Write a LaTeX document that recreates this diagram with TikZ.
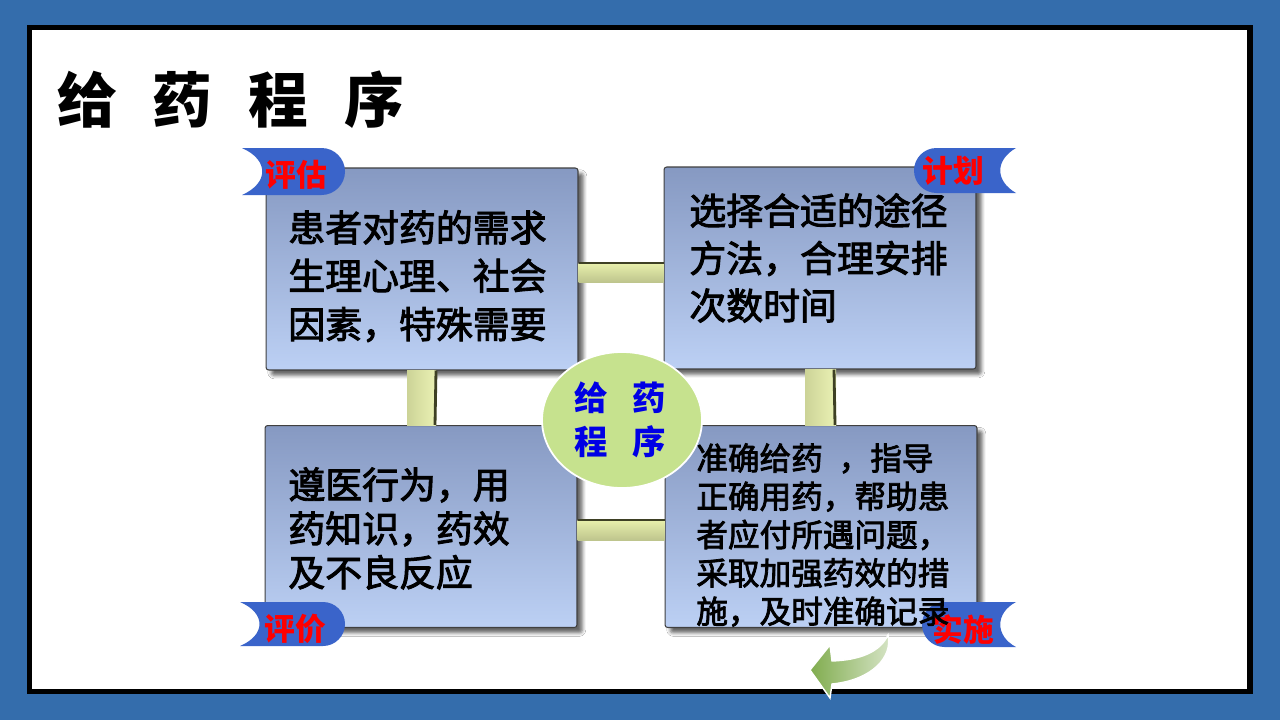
\documentclass[tikz,border=0pt]{standalone}
\usepackage{fontspec}
\setmainfont{Noto Sans CJK SC}
\newfontfamily\boxfont{Noto Sans CJK SC}[FakeBold=2.5]
\usetikzlibrary{calc,shapes.geometric,shadows.blur}

\definecolor{slideblue}{RGB}{52,109,172}
\definecolor{tagblue}{RGB}{58,100,202}
\definecolor{boxtop}{RGB}{134,153,194}
\definecolor{boxbot}{RGB}{188,208,244}
\definecolor{barlight}{RGB}{232,240,172}
\definecolor{bardark}{RGB}{62,64,36}
\definecolor{hubgreen}{RGB}{198,226,142}
\definecolor{arrowgreen}{RGB}{128,172,78}

\begin{document}
\begin{tikzpicture}[x=0.02cm, y=-0.02cm,
    infobox/.style={minimum width=6.24cm, minimum height=4.04cm, inner sep=0pt,
      rounded corners=1.5pt, draw=black!75, line width=0.6pt,
      top color=boxtop, bottom color=boxbot,
      blur shadow={shadow xshift=3pt, shadow yshift=-3pt, shadow blur radius=2pt, shadow opacity=60}},
    boxtext/.style={anchor=north west, inner sep=0pt, align=left},
    tagtext/.style={text=red, inner sep=0pt, font=\bfseries\fontsize{17.5}{20}\selectfont},
    hbar/.style={top color=barlight, bottom color=barlight!82!black},
    vbar/.style={left color=barlight!88!black, right color=barlight!90!white},
    baredge/.style={bardark, line width=1.6pt}]

	\useasboundingbox (0,0) rectangle (1280,720);
	\fill[slideblue] (0,0) rectangle (1280,720);
	\draw[line width=3.1pt, fill=white] (29.5,27.5) rectangle (1250,691.5);

	% Title
	\node[anchor=north west, inner sep=0pt, font=\bfseries\fontsize{34}{40}\selectfont] (title) at (57,70)
		{给\hspace{0.6em}药\hspace{0.6em}程\hspace{0.6em}序};

	% The four boxes
	\node[infobox] (TL) at (422,269) {};
	\node[infobox] (TR) at (820,268) {};
	\node[infobox] (BL) at (421,526.5) {};
	\node[infobox] (BR) at (821,526.5) {};

	% Bars between the boxes
	\shade[hbar] ($(TL.east)+(0,-6)$) rectangle ($(TR.west)+(0,14)$);
	\draw[baredge] ($(TL.east)+(0,-6)$) -- ($(TR.west)+(0,-5)$);
	\shade[hbar] ($(BL.east)+(0,-6.5)$) rectangle ($(BR.west)+(0,13.5)$);
	\draw[baredge] ($(BL.east)+(0,-6.5)$) -- ($(BR.west)+(0,-6.5)$);
	\shade[vbar] ($(TL.south)+(-15,0)$) rectangle ($(BL.north)+(15,0)$);
	\draw[baredge] ($(TL.south)+(14,0)$) -- ($(BL.north)+(14,0)$);
	\shade[vbar] ($(TR.south)+(-15,0)$) rectangle ($(BR.north)+(15,0)$);
	\draw[baredge] ($(TR.south)+(14,0)$) -- ($(BR.north)+(14,0)$);

	% Centre
	\node[ellipse, fill=hubgreen, draw=white, line width=1pt, minimum width=3.2cm, minimum height=2.72cm] (hub) at (622,420) {};
	\node[inner sep=0pt, align=left, text=blue!90!black, font=\bfseries\fontsize{19}{25}\selectfont] (hubtext) at (620,420)
		{给\hspace{0.72em}药\\程\hspace{0.72em}序};

	% Tags
	\fill[tagblue] (242,148) -- (321.5,148) arc[start angle=-90, end angle=90, radius=23.5]
		-- (242,195) .. controls (269,183) and (269,160) .. (242,148) -- cycle;
	\fill[tagblue] (1016,148) -- (936.5,148) arc[start angle=-90, end angle=-270, radius=22.5]
		-- (1016,193) .. controls (995,181) and (995,160) .. (1016,148) -- cycle;
	\fill[tagblue] (240,602) -- (323,602) arc[start angle=-90, end angle=90, radius=22]
		-- (240,646) .. controls (266,635) and (266,613) .. (240,602) -- cycle;
	\fill[tagblue] (1016,602) -- (944.5,602) arc[start angle=-90, end angle=-270, radius=22.5]
		-- (1016,647) .. controls (995,636) and (995,613) .. (1016,602) -- cycle;
	\node[tagtext] (assess) at (296,175) {评估};
	\node[tagtext] (plan) at (953,171) {计划};
	\node[tagtext] (evaluate) at (295,629) {评价};
	\node[tagtext] (implement) at (963,630) {实施};

	% Box texts
	\node[boxtext, font=\boxfont\fontsize{21}{27.5}\selectfont] (needs) at (288,210)
		{患者对药的需求\\生理心理、社会\\因素，特殊需要};
	\node[boxtext, font=\boxfont\fontsize{21}{27}\selectfont] (route) at (689,193)
		{选择合适的途径\\方法，合理安排\\次数时间};
	\node[boxtext, font=\boxfont\fontsize{21}{25}\selectfont] (comply) at (288,467)
		{遵医行为，用\\药知识，药效\\及不良反应};
	\node[boxtext, font=\boxfont\fontsize{18}{21.8}\selectfont] (give) at (696,443)
		{准确给药\hspace{0.5em}，指导\\正确用药，帮助患\\者应付所遇问题，\\采取加强药效的措\\施，及时准确记录};

	% Curved arrow
	\shade[left color=arrowgreen, right color=arrowgreen!30, draw=white, line width=0.8pt]
		(888,635) .. controls (880,652) and (860,660) .. (832,661) -- (830,645) -- (810,670)
		-- (830,698) -- (832,684) .. controls (872,680) and (893,657) .. (888,635) -- cycle;
\end{tikzpicture}
\end{document}
